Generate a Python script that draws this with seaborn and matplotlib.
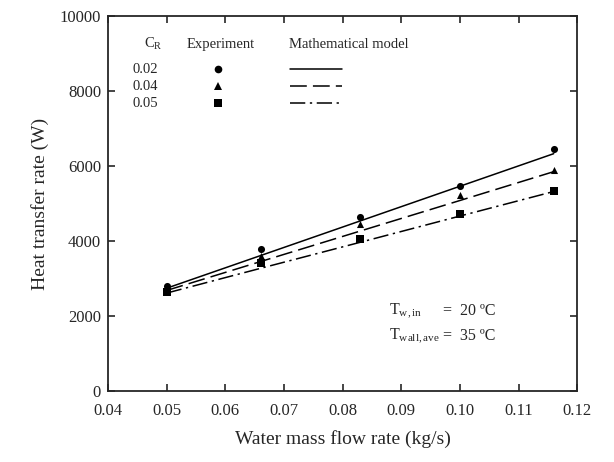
import matplotlib
matplotlib.use("Agg")
import matplotlib.pyplot as plt
import pandas as pd
import seaborn as sns

# flow rate (kg/s)
flow = [0.05, 0.066, 0.083, 0.10, 0.116]
cr_labels = ["0.02", "0.04", "0.05"]

# experiment (W)
exp_002 = [2800, 3790, 4640, 5470, 6450]
exp_004 = [2720, 3600, 4450, 5230, 5900]
exp_005 = [2640, 3410, 4050, 4720, 5330]

# mathematical model (W)
mod_002 = [2740, 3610, 4535, 5460, 6330]
mod_004 = [2680, 3450, 4265, 5080, 5850]
mod_005 = [2610, 3270, 3965, 4665, 5320]

x_ticks = [0.04, 0.05, 0.06, 0.07, 0.08, 0.09, 0.10, 0.11, 0.12]
x_tick_labels = ["0.04", "0.05", "0.06", "0.07", "0.08", "0.09", "0.10", "0.11", "0.12"]
y_ticks = [0, 2000, 4000, 6000, 8000, 10000]


def main():
    sns.set_style("ticks")
    plt.rcParams['font.family'] = ['Liberation Serif', 'DejaVu Serif']
    plt.rcParams['mathtext.fontset'] = 'custom'
    plt.rcParams['mathtext.rm'] = 'Liberation Serif'
    plt.rcParams['mathtext.it'] = 'Liberation Serif'

    fig = plt.figure(figsize=(6.14, 4.62), dpi=100)
    ax = fig.add_axes([0.176, 0.154, 0.764, 0.811])

    exps = [exp_002, exp_004, exp_005]
    mods = [mod_002, mod_004, mod_005]
    markers = ['o', '^', 's']
    dashes = [(None, None), (11, 4), (10, 3, 1.5, 3)]

    for e, m, mk, ds in zip(exps, mods, markers, dashes):
        df = pd.DataFrame({'flow': flow, 'exp': e, 'mod': m})
        line = sns.lineplot(data=df, x='flow', y='mod', color='black', lw=1.1, ax=ax)
        if ds[0] is not None:
            line.lines[-1].set_dashes(ds)
        sns.scatterplot(data=df, x='flow', y='exp', marker=mk, color='black',
                        s=26, edgecolor='black', linewidth=0, ax=ax, zorder=3)

    ax.set_xlim(0.04, 0.12)
    ax.set_ylim(0, 10000)
    ax.set_xticks(x_ticks)
    ax.set_xticklabels(x_tick_labels)
    ax.set_yticks(y_ticks)
    ax.tick_params(direction='in', length=5, width=1.2, labelsize=12,
                   top=True, right=True)
    ax.tick_params(axis='x', pad=9)
    ax.tick_params(axis='y', pad=5)
    for s in ax.spines.values():
        s.set_linewidth(1.3)
    ax.set_xlabel('Water mass flow rate (kg/s)', fontsize=14, labelpad=8)
    ax.set_ylabel('Heat transfer rate (W)', fontsize=14, labelpad=8)

    # legend table
    tr = ax.transAxes
    ax.text(0.096, 0.925, r'C$_\mathregular{R}$', transform=tr, fontsize=10.5, ha='center', va='center')
    ax.text(0.239, 0.925, 'Experiment', transform=tr, fontsize=10.5, ha='center', va='center')
    ax.text(0.385, 0.925, 'Mathematical model', transform=tr, fontsize=10.5, ha='left', va='center')
    rows = [0.859, 0.813, 0.768]
    for lab, ry, mk, ds in zip(cr_labels, rows, markers, dashes):
        ax.text(0.079, ry, lab, transform=tr, fontsize=10.5, ha='center', va='center')
        ax.plot([0.235], [ry], marker=mk, color='black', ms=5.5, mew=0, transform=tr)
        ln, = ax.plot([0.388, 0.499], [ry, ry], color='black', lw=1.1, transform=tr)
        if ds[0] is not None:
            ln.set_dashes(ds)

    ax.text(0.598, 0.213, r'T$_\mathregular{w,in}$', transform=tr, fontsize=11.5, ha='left', va='center')
    ax.text(0.714, 0.213, '=  20 ºC', transform=tr, fontsize=11.5, ha='left', va='center')
    ax.text(0.598, 0.147, r'T$_\mathregular{wall,ave}$', transform=tr, fontsize=11.5, ha='left', va='center')
    ax.text(0.714, 0.147, '=  35 ºC', transform=tr, fontsize=11.5, ha='left', va='center')

    fig.savefig('out.png', dpi=100)


main()
